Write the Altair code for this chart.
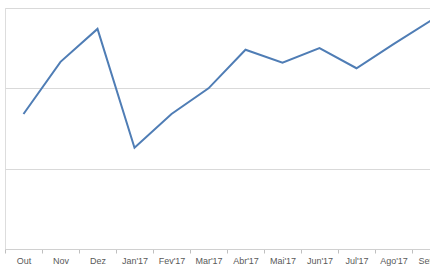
import altair as alt
import pandas as pd

months = ["Out", "Nov", "Dez", "Jan'17", "Fev'17", "Mar'17", "Abr'17",
          "Mai'17", "Jun'17", "Jul'17", "Ago'17", "Set'17"]
values = [1.68, 2.33, 2.74, 1.26, 1.68, 2.00, 2.48, 2.32, 2.50, 2.25, 2.55, 2.84]

df = pd.DataFrame({"mes": months, "valor": values})

chart = alt.Chart(df).mark_line(color="#4f7db5", strokeWidth=2).encode(
    x=alt.X("mes:N", sort=months, title=None,
            scale=alt.Scale(range=[0, 444], paddingInner=0, paddingOuter=0),
            axis=alt.Axis(labelAngle=0, tickBand="extent", tickSize=4,
                          tickColor="#bfbfbf", domainColor="#d0d0d0",
                          labelColor="#595959", labelFont="Liberation Sans",
                          labelFontSize=9, labelPadding=3, grid=False)),
    y=alt.Y("valor:Q", title=None,
            scale=alt.Scale(domain=[0, 3], nice=False, zero=True),
            axis=alt.Axis(values=[1, 2, 3], labels=False, ticks=False,
                          domain=False, grid=True, gridColor="#d9d9d9",
                          gridWidth=1))
).properties(
    width=425, height=241,
    autosize=alt.AutoSizeParams(type="none"),
    padding={"left": 5, "top": 8, "right": 0, "bottom": 21}
).configure_view(stroke=None).configure(background="white")

chart.save("out.html", embed_options={"renderer": "svg", "actions": False})
